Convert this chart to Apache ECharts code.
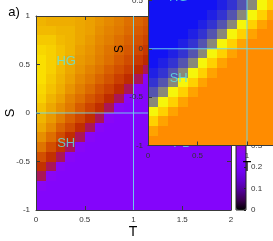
<!DOCTYPE html>
<html><head><meta charset="utf-8">
<script src="https://cdn.jsdelivr.net/npm/echarts@6/dist/echarts.min.js"></script>
<style>html,body{margin:0;padding:0;background:#fff}#c{width:273px;height:241px}</style>
</head><body><div id="c"></div>
<script>
// ---- data ----
const T_CENTERS = [0.05,0.15,0.25,0.35,0.45,0.55,0.65,0.75,0.85,0.95,1.05,1.15,1.25,1.35,1.45,1.55,1.65,1.75,1.85,1.95];
const S_CENTERS = [-0.95,-0.85,-0.75,-0.65,-0.55,-0.45,-0.35,-0.25,-0.15,-0.05,0.05,0.15,0.25,0.35,0.45,0.55,0.65,0.75,0.85,0.95];
// rows: S from -0.95 (first) to 0.95 (last); columns: T from 0.05 to 1.95
const MAIN_VALUES = [
 [0.24,0.24,0.24,0.24,0.24,0.24,0.24,0.24,0.24,0.24,0.24,0.24,0.24,0.24,0.24,0.24,0.24,0.24,0.24,0.24],
 [0.24,0.24,0.24,0.24,0.24,0.24,0.24,0.24,0.24,0.24,0.24,0.24,0.24,0.24,0.24,0.24,0.24,0.24,0.24,0.24],
 [0.26,0.24,0.24,0.24,0.24,0.24,0.24,0.24,0.24,0.24,0.24,0.24,0.24,0.24,0.24,0.24,0.24,0.24,0.24,0.24],
 [0.40,0.26,0.24,0.24,0.24,0.24,0.24,0.24,0.24,0.24,0.24,0.24,0.24,0.24,0.24,0.24,0.24,0.24,0.24,0.24],
 [0.52,0.40,0.26,0.24,0.24,0.24,0.24,0.24,0.24,0.24,0.24,0.24,0.24,0.24,0.24,0.24,0.24,0.24,0.24,0.24],
 [0.61,0.52,0.40,0.26,0.24,0.24,0.24,0.24,0.24,0.24,0.24,0.24,0.24,0.24,0.24,0.24,0.24,0.24,0.24,0.24],
 [0.69,0.61,0.52,0.40,0.26,0.24,0.24,0.24,0.24,0.24,0.24,0.24,0.24,0.24,0.24,0.24,0.24,0.24,0.24,0.24],
 [0.74,0.68,0.60,0.51,0.40,0.26,0.24,0.24,0.24,0.24,0.24,0.24,0.24,0.24,0.24,0.24,0.24,0.24,0.24,0.24],
 [0.78,0.73,0.66,0.60,0.51,0.40,0.26,0.24,0.24,0.24,0.24,0.24,0.24,0.24,0.24,0.24,0.24,0.24,0.24,0.24],
 [0.80,0.76,0.71,0.65,0.59,0.51,0.40,0.26,0.24,0.24,0.24,0.24,0.24,0.24,0.24,0.24,0.24,0.24,0.24,0.24],
 [0.82,0.78,0.74,0.70,0.64,0.58,0.51,0.40,0.26,0.24,0.24,0.24,0.24,0.24,0.24,0.24,0.24,0.24,0.24,0.24],
 [0.84,0.80,0.77,0.72,0.68,0.63,0.58,0.50,0.40,0.26,0.24,0.24,0.24,0.24,0.24,0.24,0.24,0.24,0.24,0.24],
 [0.85,0.82,0.79,0.75,0.71,0.67,0.62,0.57,0.50,0.40,0.26,0.24,0.24,0.24,0.24,0.24,0.24,0.24,0.24,0.24],
 [0.86,0.83,0.80,0.77,0.73,0.70,0.66,0.62,0.56,0.50,0.40,0.26,0.24,0.24,0.24,0.24,0.24,0.24,0.24,0.24],
 [0.86,0.84,0.81,0.78,0.75,0.72,0.69,0.65,0.61,0.56,0.49,0.40,0.26,0.24,0.24,0.24,0.24,0.24,0.24,0.24],
 [0.86,0.84,0.82,0.79,0.76,0.74,0.71,0.68,0.64,0.60,0.55,0.49,0.40,0.26,0.24,0.24,0.24,0.24,0.24,0.24],
 [0.85,0.84,0.82,0.80,0.77,0.75,0.72,0.69,0.66,0.63,0.59,0.54,0.49,0.40,0.26,0.24,0.24,0.24,0.24,0.24],
 [0.83,0.83,0.81,0.80,0.78,0.76,0.73,0.71,0.68,0.65,0.62,0.58,0.54,0.49,0.40,0.26,0.24,0.24,0.24,0.24],
 [0.81,0.81,0.80,0.80,0.78,0.77,0.74,0.72,0.70,0.67,0.64,0.61,0.57,0.53,0.48,0.40,0.26,0.24,0.24,0.24],
 [0.80,0.79,0.79,0.79,0.78,0.77,0.75,0.73,0.71,0.68,0.66,0.63,0.60,0.56,0.53,0.48,0.40,0.26,0.24,0.24]
];
const INSET_T_CENTERS = [0.05,0.15,0.25,0.35,0.45,0.55,0.65,0.75,0.85,0.95,1.05,1.15,1.25,1.35];
const INSET_S_CENTERS = [-0.95,-0.85,-0.75,-0.65,-0.55,-0.45,-0.35,-0.25,-0.15,-0.05,0.05,0.15,0.25,0.35,0.45,0.55];
const INSET_VALUES = [
 [1,1,1,1,1,1,1,1,1,1,1,1,1,1],
 [0.9,1,1,1,1,1,1,1,1,1,1,1,1,1],
 [0.7,0.9,1,1,1,1,1,1,1,1,1,1,1,1],
 [0.48,0.7,0.9,1,1,1,1,1,1,1,1,1,1,1],
 [0.25,0.48,0.7,0.9,1,1,1,1,1,1,1,1,1,1],
 [0.14,0.25,0.48,0.7,0.9,1,1,1,1,1,1,1,1,1],
 [0.07,0.14,0.25,0.48,0.7,0.9,1,1,1,1,1,1,1,1],
 [0.03,0.07,0.14,0.25,0.48,0.7,0.9,1,1,1,1,1,1,1],
 [0,0.03,0.07,0.14,0.25,0.48,0.7,0.9,1,1,1,1,1,1],
 [0,0,0.03,0.07,0.14,0.25,0.48,0.7,0.9,1,1,1,1,1],
 [0,0,0,0.03,0.07,0.14,0.25,0.48,0.7,0.9,1,1,1,1],
 [0,0,0,0,0.03,0.07,0.14,0.25,0.48,0.7,0.9,1,1,1],
 [0,0,0,0,0,0.03,0.07,0.14,0.25,0.48,0.7,0.9,1,1],
 [0,0,0,0,0,0,0.03,0.07,0.14,0.25,0.48,0.7,0.9,1],
 [0,0,0,0,0,0,0,0.03,0.07,0.14,0.25,0.48,0.7,0.9],
 [0,0,0,0,0,0,0,0,0.03,0.07,0.14,0.25,0.48,0.7]
];
const CELL_STEP = 0.1;
const T_MIN = 0, T_MAX = 2, T_INTERVAL = 0.5;
const S_MIN = -1, S_MAX = 1, S_INTERVAL = 0.5;
const CB_MIN = 0, CB_MAX = 0.9, CB_INTERVAL = 0.1;
const REGION_NAMES = ['HG','SH','SG','PD'];
const REGION_T = [0.31, 0.31, 1.5, 1.5];
const REGION_S = [0.53, -0.31, 0.53, -0.31];
const REF_T = 1, REF_S = 0;

// ---- styles ----
const FONT = "'Liberation Sans', Arial, sans-serif";
const GNU_PALETTE = ['#000000','#39004f','#510096','#6301ce','#7202f3','#8004ff','#8c07f3','#970bce','#a11096','#ab174f','#b42000','#bd2a00','#c63700','#ce4600','#d55700','#dd6c00','#e48300','#eb9d00','#f2ba00','#f9db00','#ffff00'];
const INSET_PALETTE = ['#1212f4','#ffff00','#ff8c00'];
const CYAN = 'rgba(110,220,235,0.9)';
const LABEL_CYAN = '#5fe3e3';

function grid3(ts, ss, rows){
  const out=[];
  for(let j=0;j<ss.length;j++) for(let i=0;i<ts.length;i++) out.push([ts[i], ss[j], rows[j][i]]);
  return out;
}
function cellRender(params, api){
  const t=api.value(0), s=api.value(1), h=CELL_STEP/2;
  const a=api.coord([t-h, s+h]), b=api.coord([t+h, s-h]);
  const x0=Math.round(a[0]), x1=Math.round(b[0]), y0=Math.round(a[1]), y1=Math.round(b[1]);
  return {type:'rect', shape:{x:x0,y:y0,width:x1-x0,height:y1-y0}, style:{fill:api.visual('color')}};
}
function vAxis(grid, pos, min, max, interval, showLabel, z, margin){
  return {type:'value', gridIndex:grid, position:pos, min:min, max:max, interval:interval, z:z,
    axisLine:{show:true, onZero:false, lineStyle:{color:'#3a3a3a', width:1}},
    axisTick:{show:true, inside:true, length:4, lineStyle:{color:'#3a3a3a'}},
    axisLabel:{show:showLabel, fontSize:8, color:'#333', fontFamily:FONT, margin:margin},
    splitLine:{show:false}};
}
const chart = echarts.init(document.getElementById('c'), null, {renderer:'canvas'});
const labelData = REGION_NAMES.map((n,k)=>({name:n, value:[REGION_T[k], REGION_S[k]]}));
const labelStyle = {show:true, position:'inside', formatter:'{b}', color:LABEL_CYAN, fontSize:13, fontFamily:FONT};

chart.setOption({
  animation:false,
  backgroundColor:'#fff',
  grid:[
    {left:36, top:16, width:195, height:194, show:false, containLabel:false, outerBoundsMode:'none'},
    {left:148, top:-48, width:198, height:193.5, show:false, containLabel:false, outerBoundsMode:'none'},
    {left:236, top:16, width:10, height:194, show:true, borderColor:'#222', borderWidth:1, backgroundColor:'rgba(0,0,0,0)', z:2, containLabel:false, outerBoundsMode:'none'}
  ],
  xAxis:[
    vAxis(0,'bottom',T_MIN,T_MAX,T_INTERVAL,true,3,6),
    vAxis(0,'top',T_MIN,T_MAX,T_INTERVAL,false,3,6),
    vAxis(1,'bottom',T_MIN,T_MAX,T_INTERVAL,true,7,6),
    vAxis(1,'top',T_MIN,T_MAX,T_INTERVAL,false,7,6),
    {type:'category', gridIndex:2, data:['c'], show:false}
  ],
  yAxis:[
    vAxis(0,'left',S_MIN,S_MAX,S_INTERVAL,true,3,6),
    vAxis(0,'right',S_MIN,S_MAX,S_INTERVAL,false,3,6),
    vAxis(1,'left',S_MIN,S_MAX,S_INTERVAL,true,7,5),
    vAxis(1,'right',S_MIN,S_MAX,S_INTERVAL,false,7,5),
    {type:'value', gridIndex:2, position:'right', min:CB_MIN, max:CB_MAX, interval:CB_INTERVAL, z:2,
     axisLine:{show:false}, axisTick:{show:true, inside:true, length:2, lineStyle:{color:'#222'}},
     axisLabel:{fontSize:8, color:'#333', fontFamily:FONT, margin:5}, splitLine:{show:false}}
  ],
  visualMap:[
    {type:'continuous', seriesIndex:0, dimension:2, min:CB_MIN, max:CB_MAX, inRange:{color:GNU_PALETTE},
     orient:'vertical', left:236, top:16, itemWidth:10, itemHeight:194, padding:0, calculable:false,
     hoverLink:false, z:1, textStyle:{fontSize:0}},
    {type:'continuous', seriesIndex:4, dimension:2, min:0, max:1, inRange:{color:INSET_PALETTE}, show:false}
  ],
  series:[
    {type:'custom', xAxisIndex:0, yAxisIndex:0, renderItem:cellRender, clip:true, z:1, silent:true,
     dimensions:['T','S','v'], encode:{x:0,y:1}, data:grid3(T_CENTERS,S_CENTERS,MAIN_VALUES)},
    {type:'line', xAxisIndex:0, yAxisIndex:0, data:[[REF_T,S_MIN],[REF_T,S_MAX]], showSymbol:false, z:3, silent:true, lineStyle:{color:CYAN,width:1}},
    {type:'line', xAxisIndex:0, yAxisIndex:0, data:[[T_MIN,REF_S],[T_MAX,REF_S]], showSymbol:false, z:3, silent:true, lineStyle:{color:CYAN,width:1}},
    {type:'scatter', xAxisIndex:0, yAxisIndex:0, symbolSize:0, z:4, silent:true, data:labelData, label:labelStyle},
    {type:'custom', xAxisIndex:2, yAxisIndex:2, renderItem:cellRender, clip:true, z:5, silent:true,
     dimensions:['T','S','v'], encode:{x:0,y:1}, data:grid3(INSET_T_CENTERS,INSET_S_CENTERS,INSET_VALUES)},
    {type:'line', xAxisIndex:2, yAxisIndex:2, data:[[REF_T,S_MIN],[REF_T,S_MAX]], showSymbol:false, z:6, silent:true, lineStyle:{color:CYAN,width:1}},
    {type:'line', xAxisIndex:2, yAxisIndex:2, data:[[T_MIN,REF_S],[T_MAX,REF_S]], showSymbol:false, z:6, silent:true, lineStyle:{color:CYAN,width:1}},
    {type:'scatter', xAxisIndex:2, yAxisIndex:2, symbolSize:0, z:8, silent:true, data:labelData, label:labelStyle}
  ],
  graphic:[
    {type:'text', x:14, y:12, z:3, style:{text:'a)', font:'13px '+FONT, fill:'#000', textAlign:'center', textVerticalAlign:'middle', align:'center', verticalAlign:'middle'}},
    {type:'text', x:10, y:113, rotation:Math.PI/2, z:3, style:{text:'S', font:'13px '+FONT, fill:'#000', textAlign:'center', textVerticalAlign:'middle', align:'center', verticalAlign:'middle'}},
    {type:'text', x:133, y:232, z:3, style:{text:'T', font:'14px '+FONT, fill:'#000', textAlign:'center', textVerticalAlign:'middle', align:'center', verticalAlign:'middle'}},
    {type:'text', x:120, y:49, rotation:Math.PI/2, z:20, style:{text:'S', font:'12px '+FONT, fill:'#000', textAlign:'center', textVerticalAlign:'middle', align:'center', verticalAlign:'middle'}},
    {type:'text', x:247, y:167, z:20, style:{text:'T', font:'14px '+FONT, fill:'#000', textAlign:'center', textVerticalAlign:'middle', align:'center', verticalAlign:'middle'}}
  ]
});
</script></body></html>
